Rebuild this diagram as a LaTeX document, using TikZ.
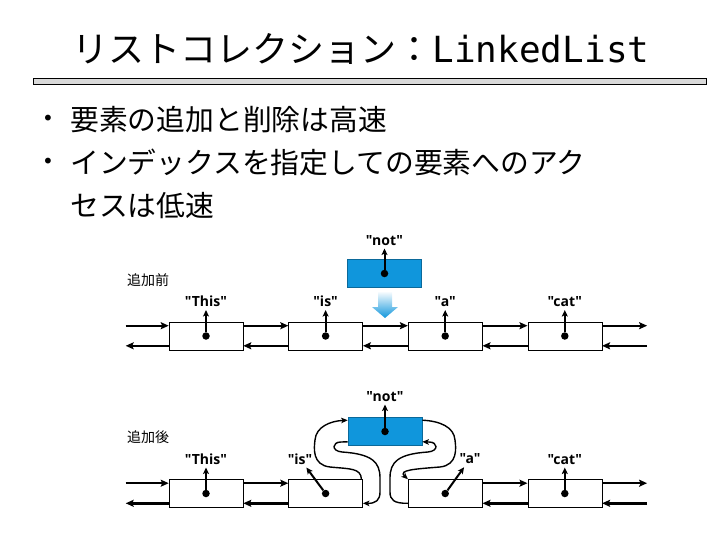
\documentclass[tikz,border=0pt]{standalone}
\usepackage{fontspec}
\setmainfont{Noto Sans CJK JP}
\newfontfamily\monofont{DejaVu Sans Mono}
\newfontfamily\labelfont{Open Sans}
\newfontfamily\dotfont{DejaVu Sans}
\usetikzlibrary{positioning,arrows.meta}
\definecolor{nodeblue}{RGB}{16,150,220}

\begin{document}
\begin{tikzpicture}[
        x=1pt, y=-1pt,
        cell/.style={
            draw,
            line width=0.6pt,
            minimum width=74pt,
            minimum height=28pt,
            inner sep=0pt
        },
        newcell/.style={cell, fill=nodeblue, draw=nodeblue!70!black},
        datadot/.style={circle, fill=black, inner sep=0pt, minimum size=7.5pt},
        value/.style={font=\labelfont\bfseries\fontsize{14}{16}\selectfont, inner xsep=1pt, inner ysep=3pt},
        link/.style={-{Stealth[length=8pt,width=7pt,inset=1.5pt]}, line width=2.4pt},
        ptr/.style={-{Stealth[length=6.5pt,width=6pt,inset=1.5pt]}, line width=2pt},
        loopline/.style={-{Stealth[length=6.5pt,width=5.5pt,inset=1.5pt]}, line width=1.4pt},
        tag/.style={font=\fontsize{14}{16}\selectfont, inner sep=0pt},
        item/.style={font=\fontsize{28.8}{34}\selectfont, anchor=base west, inner sep=0pt},
        bullet/.style={font=\dotfont\fontsize{20}{20}\selectfont, inner sep=0pt},
        node distance=45pt
    ]
    \useasboundingbox (0,0) rectangle (720,540);

    % Title and bullets
    \node[font=\fontsize{36}{40}\selectfont, anchor=base] (title) at (361,63)
        {リストコレクション：{\monofont LinkedList}};
    \draw[fill=gray!30, line width=0.8pt] (33,78) rectangle (706,84);

    \node[bullet] (bul1) at (48,120) {•};
    \node[item] (item1) at (70,131) {要素の追加と削除は高速};
    \node[bullet] (bul2) at (48,163) {•};
    \node[item] (item2) at (70,174) {インデックスを指定しての要素へのアク};
    \node[item] (item3) at (70,216) {セスは低速};

    \node[tag] (before) at (148,280) {追加前};
    \node[tag] (after) at (148,437) {追加後};

    % Before insertion
    \node[cell] (this1) at (206,336) {};
    \node[cell, right=of this1] (is1) {};
    \node[cell, right=of is1] (a1) {};
    \node[cell, right=of a1] (cat1) {};
    \node[newcell] (not1) at (384.5,273.5) {};

    % After insertion
    \node[cell] (this2) at (206,493.5) {};
    \node[cell, right=of this2] (is2) {};
    \node[cell, right=of is2] (a2) {};
    \node[cell, right=of a2] (cat2) {};
    \node[newcell] (not2) at (385,431.5) {};

    \foreach \n in {this1,is1,a1,cat1,not1,this2,is2,a2,cat2,not2}
        \node[datadot] (\n-d) at (\n) {};

    % Values
    \node[value, above=22pt of this1-d] (this1-v) {"This"};
    \node[value, above=22pt of is1-d] (is1-v) {"is"};
    \node[value, above=22pt of a1-d] (a1-v) {"a"};
    \node[value, above=22pt of cat1-d] (cat1-v) {"cat"};
    \node[value, above=21pt of not1-d] (not1-v) {"not"};
    \node[value, above=22pt of this2-d] (this2-v) {"This"};
    \node[value] (is2-v) at (300,459) {"is"};
    \node[value] (a2-v) at (470,459) {"a"};
    \node[value, above=22pt of cat2-d] (cat2-v) {"cat"};
    \node[value, above=23pt of not2-d] (not2-v) {"not"};

    \foreach \n in {this1,is1,a1,cat1,not1,this2,is2,a2,cat2,not2}
        \draw[ptr] (\n-d) -- (\n-v);

    % Links
    \foreach \a/\b in {this1/is1, is1/a1, a1/cat1, this2/is2, a2/cat2} {
        \draw[link] ([yshift=-4pt]\a.north east) -- ([yshift=-4pt]\b.north west);
        \draw[link] ([yshift=4.5pt]\b.south west) -- ([yshift=4.5pt]\a.south east);
    }
    \foreach \f/\l in {this1/cat1, this2/cat2} {
        \draw[link] ([xshift=-43pt,yshift=-4pt]\f.north west) -- ([yshift=-4pt]\f.north west);
        \draw[link] ([yshift=4.5pt]\f.south west) -- ++(-43,0);
        \draw[link] ([yshift=-4pt]\l.north east) -- ++(45,0);
        \draw[link] ([xshift=45pt,yshift=4.5pt]\l.south east) -- ([yshift=4.5pt]\l.south east);
    }

    % Insert arrow
    \shade[top color=white, bottom color=nodeblue]
        (378,291) -- (392,291) -- (392,307) -- (398,307) -- (385,318)
        -- (372,307) -- (378,307) -- cycle;

    % Relinked pointers
    \draw[loopline] ([xshift=-1.5pt]is2.north east)
        .. controls (361,468) and (350,469) .. (330,467)
        .. controls (312,465) and (314,448) .. (315,440)
        .. controls (316,427) and (330,421) .. ([yshift=-3pt]not2.north west);
    \draw[loopline] ([yshift=4pt]not2.south west) -- (341,442)
        .. controls (332,442) and (331,451) .. (342,452)
        .. controls (372,454) and (380,462) .. (380,478) -- (380,492)
        .. controls (380,500) and (376,503.5) .. ([yshift=4.5pt]is2.south east);
    \draw[loopline] ([yshift=-3pt]not2.north east)
        .. controls (440,421) and (454,427) .. (455,440)
        .. controls (456,448) and (458,465) .. (440,467)
        .. controls (415,469) and (398,470) .. (a2.north west);
    \draw[loopline] ([yshift=4.5pt]a2.south west)
        .. controls (394,503.5) and (390,500) .. (390,492) -- (390,478)
        .. controls (390,462) and (398,454) .. (428,452)
        .. controls (439,451) and (438,442) .. (429,442) -- ([yshift=4pt]not2.south east);
\end{tikzpicture}
\end{document}
